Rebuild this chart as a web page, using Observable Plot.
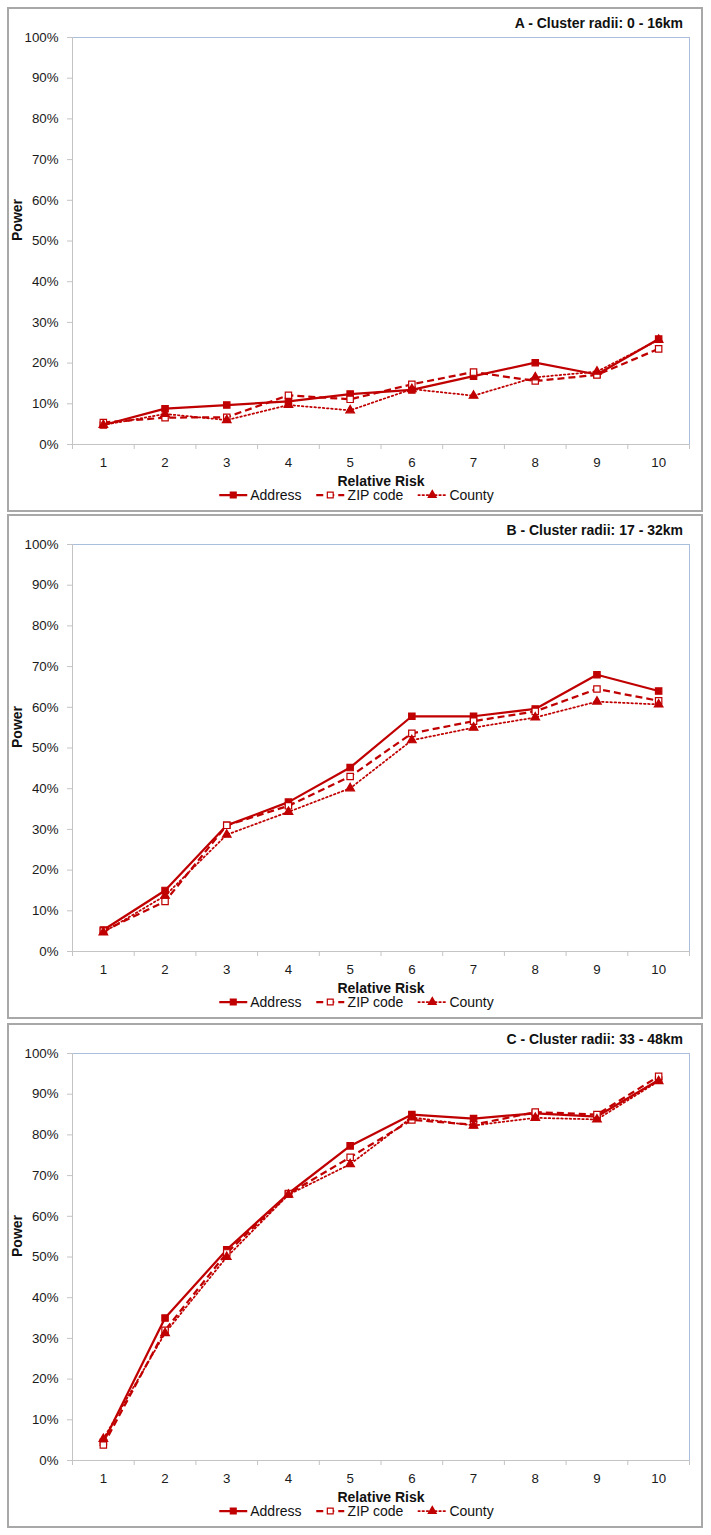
<!DOCTYPE html>
<html>
<head>
<meta charset="utf-8">
<script src="https://cdn.jsdelivr.net/npm/d3@7"></script>
<script src="https://cdn.jsdelivr.net/npm/@observablehq/plot@0.6"></script>
<style>
  html, body { margin: 0; padding: 0; background: #fff; }
  body { width: 711px; height: 1535px; position: relative; font-family: Arial, "Liberation Sans", sans-serif; color: #111; }
  .panel { position: absolute; left: 7px; width: 696px; height: 505px; box-sizing: border-box; border: 2px solid #a8a8a8; background: #fff; }
  .panel svg.plot { position: absolute; left: 0; top: 0; }
  .title { position: absolute; right: 18px; top: 6px; line-height: 16px; font-size: 14px; font-weight: bold; white-space: nowrap; }
  .legend { position: absolute; left: 347px; top: 478px; transform: translateX(-50%); display: flex; align-items: center; gap: 14px; font-size: 14px; line-height: 16px; white-space: nowrap; }
  .legend .item { display: flex; align-items: center; gap: 2px; }
  .legend svg { display: block; }
</style>
</head>
<body>
<script>
// Data (percent power)
const relativeRisk = [1, 2, 3, 4, 5, 6, 7, 8, 9, 10];
const yTicks = [0, 10, 20, 30, 40, 50, 60, 70, 80, 90, 100];
const seriesNames = ["Address", "ZIP code", "County"];
const panelTitles = ["A - Cluster radii: 0 - 16km", "B - Cluster radii: 17 - 32km", "C - Cluster radii: 33 - 48km"];

const addressA = [4.8, 8.8, 9.7, 10.6, 12.4, 13.4, 16.8, 20.1, 17.2, 25.9];
const zipA     = [5.4, 6.6, 6.7, 12.1, 11.1, 14.8, 17.8, 15.6, 17.1, 23.5];
const countyA  = [4.8, 7.5, 6.0, 9.7, 8.4, 13.6, 12.0, 16.5, 17.9, 25.7];

const addressB = [5.3, 15.0, 31.0, 36.7, 45.2, 57.8, 57.8, 59.6, 68.0, 64.0];
const zipB     = [5.0, 12.3, 31.0, 35.8, 43.0, 53.6, 56.6, 59.0, 64.5, 61.6];
const countyB  = [4.7, 13.7, 28.7, 34.3, 40.1, 51.9, 55.0, 57.5, 61.4, 60.7];

const addressC = [4.5, 35.0, 51.8, 65.6, 77.3, 85.0, 84.0, 85.3, 84.5, 93.5];
const zipC     = [3.8, 32.0, 51.0, 65.5, 74.5, 83.7, 82.5, 85.6, 85.0, 94.4];
const countyC  = [5.3, 31.3, 50.0, 65.3, 72.8, 84.3, 82.3, 84.2, 83.8, 93.2];

const RED = "#c00000";
const styles = {
  "Address":  {dash: null,      width: 2.25, symbol: "square",   fill: RED,    r: 3.6},
  "ZIP code": {dash: "7,4",     width: 2.25, symbol: "square",   fill: "#fff", r: 3.6},
  "County":   {dash: "1.6,2.6", width: 1.75, symbol: "triangle", fill: RED,    r: 3.2}
};

function toRows(name, values) {
  return relativeRisk.map((rr, i) => ({series: name, rr, power: values[i]}));
}

const boundaries = d3.range(0.5, 11, 1);

function makePanel(title, addr, zip, county, top) {
  const panel = document.createElement("div");
  panel.className = "panel";
  panel.style.top = top + "px";
  document.body.appendChild(panel);

  const groups = [toRows("Address", addr), toRows("ZIP code", zip), toRows("County", county)];
  const marks = [
    Plot.ruleY([100], {stroke: "#a9bfdc", strokeWidth: 1}),
    Plot.ruleX([10.5], {stroke: "#a9bfdc", strokeWidth: 1}),
    Plot.ruleX([0.5], {stroke: "#c4c4c4", strokeWidth: 1}),
    Plot.ruleY([0], {stroke: "#c4c4c4", strokeWidth: 1}),
    Plot.axisY({ticks: yTicks, tickSize: 5, tickPadding: 9, tickFormat: d => d + "%", fontSize: 13.3, stroke: "#c4c4c4", fill: "#1a1a1a", label: null}),
    Plot.axisX({ticks: boundaries, tickSize: 5, tickFormat: () => "", stroke: "#c4c4c4", label: null}),
    Plot.axisX({ticks: relativeRisk, tickSize: 0, tickPadding: 13, tickFormat: d => String(d), fontSize: 13.3, fill: "#1a1a1a", label: null}),
    Plot.text(["Power"], {frameAnchor: "left", rotate: -90, dx: -55, fontWeight: "bold", fontSize: 14, fill: "#111"}),
    Plot.text(["Relative Risk"], {frameAnchor: "bottom", dy: 37.5, lineAnchor: "middle", fontWeight: "bold", fontSize: 14, fill: "#111"})
  ];
  for (const rows of groups) {
    const s = styles[rows[0].series];
    marks.push(Plot.line(rows, {x: "rr", y: "power", stroke: RED, strokeWidth: s.width, strokeDasharray: s.dash, strokeLinecap: rows[0].series === "County" ? "round" : "butt", strokeLinejoin: "round"}));
  }
  for (const rows of groups) {
    const s = styles[rows[0].series];
    marks.push(Plot.dot(rows, {x: "rr", y: "power", symbol: s.symbol, r: s.r, fill: s.fill, stroke: RED, strokeWidth: 1.2}));
  }

  const chart = Plot.plot({
    width: 692,
    height: 501,
    marginLeft: 63,
    marginRight: 12,
    marginTop: 28,
    marginBottom: 66,
    x: {type: "linear", domain: [0.5, 10.5]},
    y: {domain: [0, 100]},
    style: {fontFamily: "Arial, 'Liberation Sans', sans-serif", background: "transparent", overflow: "visible"},
    marks
  });
  chart.classList.add("plot");
  panel.appendChild(chart);

  const t = document.createElement("div");
  t.className = "title";
  t.textContent = title;
  panel.appendChild(t);

  const legend = document.createElement("div");
  legend.className = "legend";
  for (const name of seriesNames) {
    const s = styles[name];
    const item = document.createElement("div");
    item.className = "item";
    const sw = d3.create("svg").attr("width", 30).attr("height", 12);
    sw.append("line").attr("x1", 1).attr("x2", 29).attr("y1", 6).attr("y2", 6)
      .attr("stroke", RED).attr("stroke-width", s.width)
      .attr("stroke-dasharray", s.dash || null)
      .attr("stroke-linecap", name === "County" ? "round" : "butt");
    const sym = d3.symbol(name === "County" ? d3.symbolTriangle : d3.symbolSquare, Math.PI * s.r * s.r * 0.85)();
    sw.append("path").attr("d", sym).attr("transform", "translate(15,6)")
      .attr("fill", s.fill).attr("stroke", RED).attr("stroke-width", 1.2);
    item.appendChild(sw.node());
    const label = document.createElement("span");
    label.textContent = name;
    item.appendChild(label);
    legend.appendChild(item);
  }
  panel.appendChild(legend);
}

makePanel(panelTitles[0], addressA, zipA, countyA, 7);
makePanel(panelTitles[1], addressB, zipB, countyB, 514);
makePanel(panelTitles[2], addressC, zipC, countyC, 1023);
</script>
</body>
</html>
